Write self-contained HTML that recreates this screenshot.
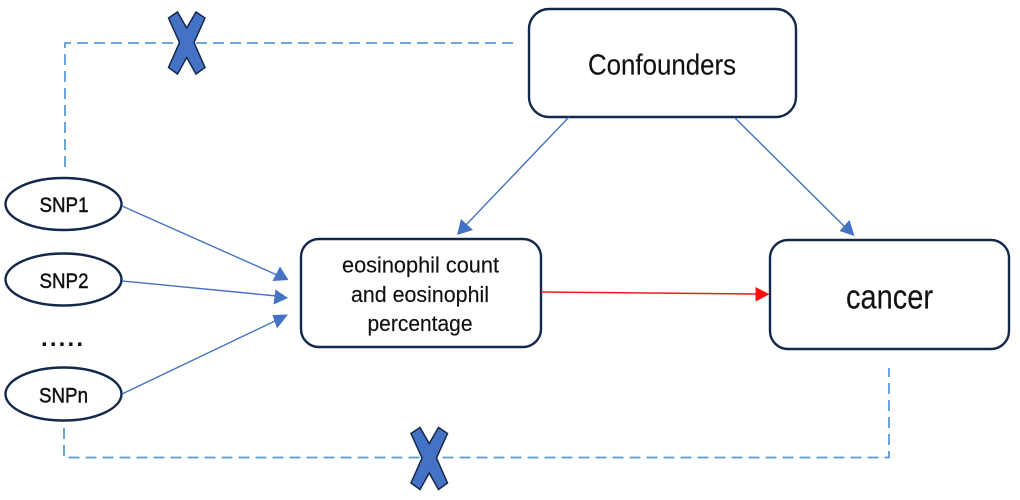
<!DOCTYPE html>
<html>
<head>
<meta charset="utf-8">
<style>
html,body{margin:0;padding:0;background:#fff;width:1020px;height:500px;overflow:hidden}
svg{display:block}
text{font-family:"Liberation Sans","Noto Sans CJK SC",sans-serif;fill:#111;text-anchor:middle}
</style>
</head>
<body>
<svg width="1020" height="500" viewBox="0 0 1020 500" xmlns="http://www.w3.org/2000/svg">
<g fill="none" stroke="#5b9bd5" stroke-width="1.8" stroke-dasharray="11 6">
<path d="M513 43H65V169"/>
<path d="M64 428V457.5H889V368"/>
</g>
<g fill="#fff" stroke="#14284b" stroke-width="2.4">
<rect x="529" y="9" width="267" height="108" rx="20"/>
<rect x="301" y="239" width="240" height="108" rx="18"/>
<rect x="770" y="240" width="239" height="109" rx="18"/>
<ellipse cx="63.5" cy="204" rx="58" ry="26"/>
<ellipse cx="63.5" cy="279.5" rx="58" ry="26"/>
<ellipse cx="63.5" cy="394" rx="58" ry="26.5"/>
</g>
<g stroke="#4472c4" stroke-width="1.4" fill="none">
<path d="M122 206L277 275"/>
<path d="M122 281L277 296"/>
<path d="M122 394L277 320"/>
<path d="M569 117L465 226"/>
<path d="M735 118L846 228"/>
</g>
<g fill="#4472c4">
<polygon points="288.5,280 272.5,281 280,266.5"/>
<polygon points="288,298 273.5,304.5 275.5,289.5"/>
<polygon points="288,314.5 277,328.5 272.5,315"/>
<polygon points="457,235 461,219 473,230"/>
<polygon points="854.5,236 839.5,231 849.5,220"/>
</g>
<path d="M541 292L757 294" stroke="#f01c1c" stroke-width="1.6" fill="none"/>
<polygon points="769.5,294.3 755.5,301.5 755.5,287" fill="#ff0d0d"/>
<g fill="#4472c4" stroke="#14284b" stroke-width="1.5" stroke-linejoin="miter">
<polygon points="168.5,18 177.5,12 186.7,28 196,12 205,18 194,42.5 205,67.5 196,74 186.7,57.5 177.5,74 168.5,67.5 179.5,42.5"/>
<polygon points="411,433.5 420,427.5 429.2,443.5 438.5,427.5 447.5,433.5 436.5,458 447.5,483 438.5,489.5 429.2,473 420,489.5 411,483 422,458"/>
</g>
<g stroke="#111" stroke-width="0.15">
<text x="662" y="74.5" font-size="29" textLength="148" lengthAdjust="spacingAndGlyphs">Confounders</text>
<text x="420.5" y="272.5" font-size="22" textLength="157" lengthAdjust="spacingAndGlyphs">eosinophil count</text>
<text x="420" y="302" font-size="22" textLength="138" lengthAdjust="spacingAndGlyphs">and eosinophil</text>
<text x="420" y="331" font-size="22" textLength="105" lengthAdjust="spacingAndGlyphs">percentage</text>
<text x="889.5" y="308.5" font-size="34" textLength="87" lengthAdjust="spacingAndGlyphs">cancer</text>
</g>
<g stroke="#111" stroke-width="0.45">
<text x="64" y="212" font-size="21" textLength="49" lengthAdjust="spacingAndGlyphs">SNP1</text>
<text x="64" y="288" font-size="21" textLength="49" lengthAdjust="spacingAndGlyphs">SNP2</text>
<text x="63.5" y="402.5" font-size="21" textLength="49" lengthAdjust="spacingAndGlyphs">SNPn</text>
</g>
<text x="62" y="346" font-size="24" font-weight="bold" textLength="42" lengthAdjust="spacing">.....</text>
</svg>
</body>
</html>
